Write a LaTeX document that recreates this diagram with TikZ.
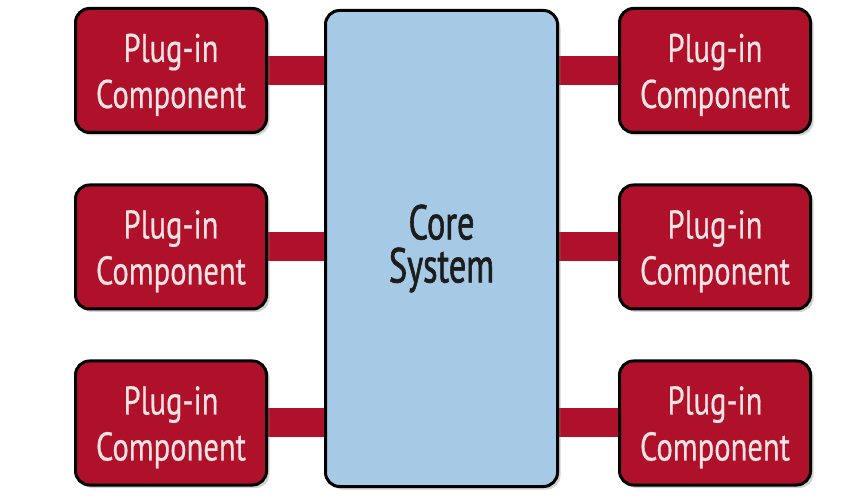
\documentclass[tikz,border=0pt]{standalone}
\usepackage{fontspec}
\setmainfont{PT Sans}
\newfontfamily\plugfont{PT Sans}[FakeStretch=0.765, FakeBold=0.4]
\newfontfamily\corefont{PT Sans}[FakeStretch=0.7, FakeBold=1.2]
\usetikzlibrary{shadows,backgrounds}
\definecolor{plugred}{HTML}{B0112A}
\definecolor{coreblue}{HTML}{A6C9E5}
\definecolor{plugtext}{HTML}{F6E3E3}
\definecolor{coretext}{HTML}{1C1C1C}
\tikzset{
  plugbox/.style={draw=black, line width=3pt, fill=plugred, rounded corners=14pt,
    minimum width=191pt, minimum height=124pt, align=center, text=plugtext,
    font=\plugfont\fontsize{40}{46}\selectfont, inner sep=0pt,
    drop shadow={opacity=0.35, shadow xshift=3pt, shadow yshift=-3pt}},
  corebox/.style={draw=black, line width=3pt, fill=coreblue, rounded corners=14pt,
    minimum width=232pt, minimum height=476pt, align=center, text=coretext,
    font=\corefont\fontsize{49}{43}\selectfont, inner sep=0pt,
    drop shadow={opacity=0.35, shadow xshift=3pt, shadow yshift=-3pt}},
  bar/.style={plugred, line width=29pt}
}
\newcommand{\plugtxt}{\rule{0pt}{37pt}Plug-in\\Component}
\begin{document}
\begin{tikzpicture}[x=1pt,y=1pt]
\useasboundingbox (0,0) rectangle (866,500);
\node[corebox] (core) at (441.5,251.5) {Core\\System};
\node[plugbox] (l1) at (171,429.5) {\plugtxt};
\node[plugbox] (l2) at (171,253) {\plugtxt};
\node[plugbox] (l3) at (171,77) {\plugtxt};
\node[plugbox] (r1) at (715,429.5) {\plugtxt};
\node[plugbox] (r2) at (715,253) {\plugtxt};
\node[plugbox] (r3) at (715,77) {\plugtxt};
\begin{scope}[on background layer]
\draw[bar] (l1.east) -- (l1.east -| core.west);
\draw[bar] (l2.east) -- (l2.east -| core.west);
\draw[bar] (l3.east) -- (l3.east -| core.west);
\draw[bar] (r1.west) -- (r1.west -| core.east);
\draw[bar] (r2.west) -- (r2.west -| core.east);
\draw[bar] (r3.west) -- (r3.west -| core.east);
\end{scope}
\end{tikzpicture}
\end{document}
